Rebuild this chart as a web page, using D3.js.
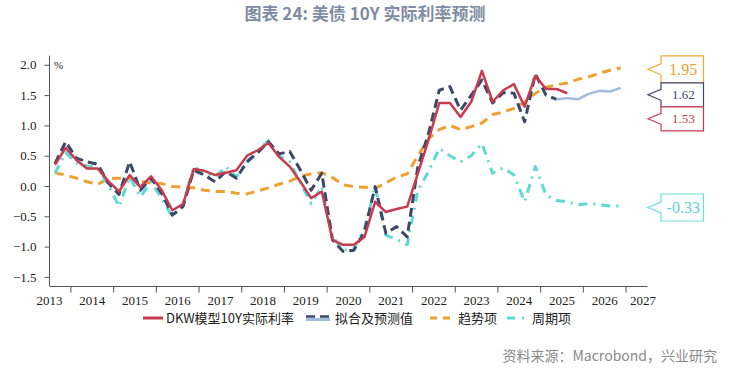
<!DOCTYPE html>
<html lang="zh">
<head>
<meta charset="UTF-8">
<title>美债 10Y 实际利率预测</title>
<script src="https://cdn.jsdelivr.net/npm/d3@7/dist/d3.min.js"></script>
<style>
  body { margin: 0; background: #fff; }
  svg text { font-family: "Liberation Serif", serif; }
  svg text.cjk { font-family: "Noto Sans CJK SC", sans-serif; }
</style>
</head>
<body>
<div id="chart"></div>
<script>
// 季度（取季度中点）
var quarters = [
  "2013Q3","2013Q4","2014Q1","2014Q2","2014Q3","2014Q4","2015Q1","2015Q2","2015Q3","2015Q4",
  "2016Q1","2016Q2","2016Q3","2016Q4","2017Q1","2017Q2","2017Q3","2017Q4","2018Q1","2018Q2",
  "2018Q3","2018Q4","2019Q1","2019Q2","2019Q3","2019Q4","2020Q1","2020Q2","2020Q3","2020Q4",
  "2021Q1","2021Q2","2021Q3","2021Q4","2022Q1","2022Q2","2022Q3","2022Q4","2023Q1","2023Q2",
  "2023Q3","2023Q4","2024Q1","2024Q2","2024Q3","2024Q4","2025Q1","2025Q2","2025Q3","2025Q4",
  "2026Q1","2026Q2","2026Q3","2026Q4"
];

// DKW模型10Y实际利率
var dkw = [
  0.35,0.63,0.43,0.29,0.29,0.08,-0.09,0.18,-0.02,0.16,
  -0.07,-0.40,-0.30,0.28,0.25,0.18,0.22,0.26,0.50,0.59,
  0.71,0.48,0.32,0.07,-0.20,-0.09,-0.89,-0.97,-0.97,-0.84,
  -0.26,-0.43,-0.38,-0.34,0.21,0.76,1.37,1.37,1.14,1.39,
  1.90,1.39,1.58,1.68,1.31,1.82,1.60,1.60,1.53,null,
  null,null,null,null
];

// 拟合值
var fitted = [
  0.37,0.73,0.46,0.40,0.36,0.05,-0.14,0.40,-0.07,0.13,
  -0.12,-0.48,-0.34,0.26,0.18,0.07,0.24,0.13,0.40,0.55,
  0.73,0.53,0.57,0.26,-0.07,0.21,-0.89,-1.08,-1.06,-0.75,
  -0.01,-0.78,-0.67,-0.84,0.32,0.87,1.58,1.64,1.25,1.50,
  1.75,1.37,1.54,1.53,1.06,1.85,1.50,1.43,null,null,
  null,null,null,null
];

// 预测值
var forecast = [
  null,null,null,null,null,null,null,null,null,null,
  null,null,null,null,null,null,null,null,null,null,
  null,null,null,null,null,null,null,null,null,null,
  null,null,null,null,null,null,null,null,null,null,
  null,null,null,null,null,null,null,1.43,1.45,1.43,
  1.52,1.57,1.56,1.62
];

// 趋势项
var trend = [
  0.22,0.18,0.13,0.07,0.03,0.12,0.13,0.12,0.08,0.05,
  0.04,-0.01,-0.02,-0.03,-0.07,-0.09,-0.09,-0.12,-0.13,-0.08,
  -0.03,0.03,0.08,0.16,0.20,0.22,0.14,0.02,-0.01,-0.02,
  -0.04,0.05,0.15,0.20,0.50,0.78,0.93,1.00,0.93,0.98,
  1.04,1.18,1.22,1.28,1.38,1.53,1.63,1.67,1.70,1.76,
  1.80,1.86,1.91,1.95
];

// 周期项
var cycle = [
  0.21,0.55,0.38,0.33,0.30,0.02,-0.34,0.15,-0.18,0.07,
  -0.20,-0.51,-0.29,0.32,0.20,0.15,0.32,0.15,0.40,0.58,
  0.75,0.50,0.40,0.05,-0.29,-0.01,-0.84,-1.06,-1.03,-0.70,
  -0.01,-0.81,-0.88,-0.97,-0.07,0.24,0.62,0.50,0.40,0.50,
  0.70,0.21,0.30,0.18,-0.26,0.32,-0.15,-0.24,-0.26,-0.31,
  -0.29,-0.31,-0.33,-0.33
];

var years = [2013,2014,2015,2016,2017,2018,2019,2020,2021,2022,2023,2024,2025,2026,2027];
var yTicks = [-1.5,-1.0,-0.5,0.0,0.5,1.0,1.5,2.0];

var W = 737, H = 370;
var svg = d3.select("#chart").append("svg")
    .attr("width", W).attr("height", H);

// 标题
svg.append("text")
    .attr("class", "cjk")
    .attr("x", 365).attr("y", 20)
    .attr("text-anchor", "middle")
    .style("font-size", "17px")
    .style("font-weight", "bold")
    .attr("fill", "#7f8da3")
    .text("图表 24: 美债 10Y 实际利率预测");

// 比例尺
var x = d3.scaleLinear().domain([2013.5, 2027.5]).range([49.6, 647.4]);
var y = d3.scaleLinear().domain([-1.65, 2.15]).range([286, 55.7]);

function qToYear(q) {
  return +q.slice(0, 4) + (+q.slice(5) - 1) * 0.25 + 0.125;
}
var t = quarters.map(qToYear);

// y轴
var yAxis = svg.append("g")
    .attr("transform", "translate(49.5,0)")
    .call(d3.axisLeft(y).tickValues(yTicks).tickFormat(d3.format(".1f")).tickSize(5).tickPadding(8));
yAxis.select(".domain").attr("stroke", "#555").attr("d", "M0," + y.range()[1] + "V" + y.range()[0]);
yAxis.selectAll(".tick line").attr("stroke", "#555");
yAxis.selectAll("text").style("font-size", "13px").attr("fill", "#222")
    .style("font-family", "'Liberation Serif', serif");

svg.append("text")
    .attr("x", 54).attr("y", 69)
    .style("font-size", "11px").attr("fill", "#222")
    .text("%");

// x轴：刻度在年初，标签居中
var xg = svg.append("g").attr("transform", "translate(0,286.5)");
xg.append("line")
    .attr("x1", x.range()[0]).attr("x2", x.range()[1])
    .attr("stroke", "#555");
xg.selectAll(".xt").data(years.slice(1)).enter().append("line")
    .attr("x1", function(d){ return x(d); }).attr("x2", function(d){ return x(d); })
    .attr("y1", 0).attr("y2", 6)
    .attr("stroke", "#555");
xg.selectAll(".xl").data(years).enter().append("text")
    .attr("x", function(d){ return Math.min(x(d + 0.5), 643); })
    .attr("y", 18)
    .attr("text-anchor", "middle")
    .style("font-size", "13px").attr("fill", "#222")
    .text(function(d){ return d; });

// 线
function series(vals) {
  return vals.map(function(v, i){ return {t: t[i], v: v}; });
}
var line = d3.line()
    .defined(function(d){ return d.v != null; })
    .x(function(d){ return x(d.t); })
    .y(function(d){ return y(d.v); });

var styles = [
  {data: trend,    color: "#f0a033", width: 3,   dash: "9,6"},
  {data: cycle,    color: "#5fd9d2", width: 3,   dash: "9,6,2,6"},
  {data: fitted,   color: "#3c4869", width: 3,   dash: "9,5"},
  {data: forecast, color: "#9fbcdc", width: 2.5, dash: null},
  {data: dkw,      color: "#c93a4f", width: 2.5, dash: null}
];
styles.forEach(function(s){
  svg.append("path")
      .datum(series(s.data))
      .attr("d", line)
      .attr("fill", "none")
      .attr("stroke", s.color)
      .attr("stroke-width", s.width)
      .attr("stroke-dasharray", s.dash)
      .attr("stroke-linejoin", "round");
});

// 右侧数值标签
var tags = [
  {v: trend[trend.length - 1],       color: "#f0a833", text: "#f0a033", h: 27, fs: 16},
  {v: forecast[forecast.length - 1], color: "#3c4869", text: "#3c4869", h: 24, fs: 13},
  {v: dkw[48],                       color: "#c93a4f", text: "#c93a4f", h: 24, fs: 13},
  {v: cycle[cycle.length - 1],       color: "#6fdcdc", text: "#5fd0d0", h: 27, fs: 16}
];
var prevBottom = -Infinity;
tags.forEach(function(d){
  var c = Math.max(y(d.v) + 1.5, prevBottom + d.h / 2);
  prevBottom = c + d.h / 2;
  var x0 = 661, x1 = 703.5, top = c - d.h / 2, bot = c + d.h / 2;
  var p = "M" + x0 + "," + top + "H" + x1 + "V" + bot + "H" + x0 +
          "V" + (c + 5.5) + "L648," + c + "L" + x0 + "," + (c - 5.5) + "Z";
  svg.append("path").attr("d", p)
      .attr("fill", "#fff").attr("stroke", d.color).attr("stroke-width", 1.2);
  svg.append("text")
      .attr("x", (x0 + x1) / 2 + 1).attr("y", c)
      .attr("dy", "0.35em")
      .attr("text-anchor", "middle")
      .style("font-size", d.fs + "px")
      .attr("fill", d.text)
      .text(d.v.toFixed(2));
});

// 图例
var legendY = 318;
var lg = svg.append("g");
lg.append("line").attr("x1", 143).attr("x2", 163).attr("y1", legendY).attr("y2", legendY)
    .attr("stroke", "#c93a4f").attr("stroke-width", 3);
lg.append("text").attr("class", "cjk").attr("x", 166).attr("y", legendY).attr("dy", "0.36em")
    .style("font-size", "13px").attr("fill", "#222").text("DKW模型10Y实际利率");

lg.append("line").attr("x1", 306).attr("x2", 330).attr("y1", legendY + 1.5).attr("y2", legendY + 1.5)
    .attr("stroke", "#9fbcdc").attr("stroke-width", 3);
lg.append("line").attr("x1", 306).attr("x2", 330).attr("y1", legendY - 1.5).attr("y2", legendY - 1.5)
    .attr("stroke", "#3c4869").attr("stroke-width", 2.5).attr("stroke-dasharray", "9,5");
lg.append("text").attr("class", "cjk").attr("x", 335).attr("y", legendY).attr("dy", "0.36em")
    .style("font-size", "13px").attr("fill", "#222").text("拟合及预测值");

lg.append("line").attr("x1", 430).attr("x2", 453).attr("y1", legendY).attr("y2", legendY)
    .attr("stroke", "#f0a033").attr("stroke-width", 3).attr("stroke-dasharray", "7,6");
lg.append("text").attr("class", "cjk").attr("x", 458).attr("y", legendY).attr("dy", "0.36em")
    .style("font-size", "13px").attr("fill", "#222").text("趋势项");

lg.append("line").attr("x1", 507).attr("x2", 528).attr("y1", legendY).attr("y2", legendY)
    .attr("stroke", "#5fd9d2").attr("stroke-width", 3).attr("stroke-dasharray", "8,7,2,20");
lg.append("text").attr("class", "cjk").attr("x", 532).attr("y", legendY).attr("dy", "0.36em")
    .style("font-size", "13px").attr("fill", "#222").text("周期项");

// 资料来源
svg.append("text")
    .attr("class", "cjk")
    .attr("x", 717).attr("y", 356).attr("dy", "0.35em")
    .attr("text-anchor", "end")
    .style("font-size", "14px")
    .attr("fill", "#8a8a8a")
    .text("资料来源：Macrobond，兴业研究");
</script>
</body>
</html>
